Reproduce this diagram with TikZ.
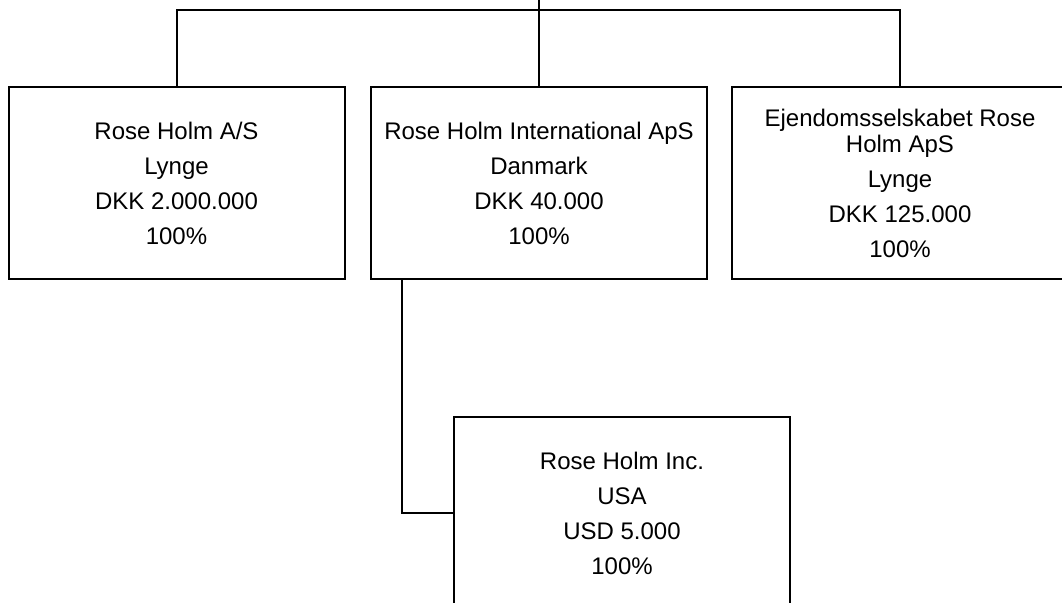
\documentclass[tikz,border=0pt]{standalone}
\usepackage{fontspec}
\setmainfont{Liberation Sans}
\begin{document}
\begin{tikzpicture}[x=1pt,y=-1pt,
  firm/.style={draw,line width=2pt,minimum width=336pt,minimum height=192pt,
    align=center,inner sep=0pt,font=\fontsize{24}{26}\selectfont},
  link/.style={line width=2pt}]
\clip (0,0) rectangle (1062,602);
% the three daughter companies
\node[firm] (rh) at (176.5,183) {Rose Holm A/S\\[9pt]Lynge\\[9pt]DKK 2.000.000\\[9pt]100\%};
\node[firm] (intl) at (539,183) {Rose Holm International ApS\\[9pt]Danmark\\[9pt]DKK 40.000\\[9pt]100\%};
\node[firm] (ejd) at (900,183) {Ejendomsselskabet Rose\\Holm ApS\\[9pt]Lynge\\[9pt]DKK 125.000\\[9pt]100\%};
% owned by the international company
\node[firm] (inc) at (622,513) {Rose Holm Inc.\\[9pt]USA\\[9pt]USD 5.000\\[9pt]100\%};
\coordinate (bus) at (538,10);
\coordinate (top) at (538,-5);
\draw[link] (rh.north) |- (bus) -| (ejd.north);
\draw[link] (intl.north) -- (intl.north |- top);
\draw[link] ([xshift=32pt]intl.south west) |- (inc.west);
\end{tikzpicture}
\end{document}
